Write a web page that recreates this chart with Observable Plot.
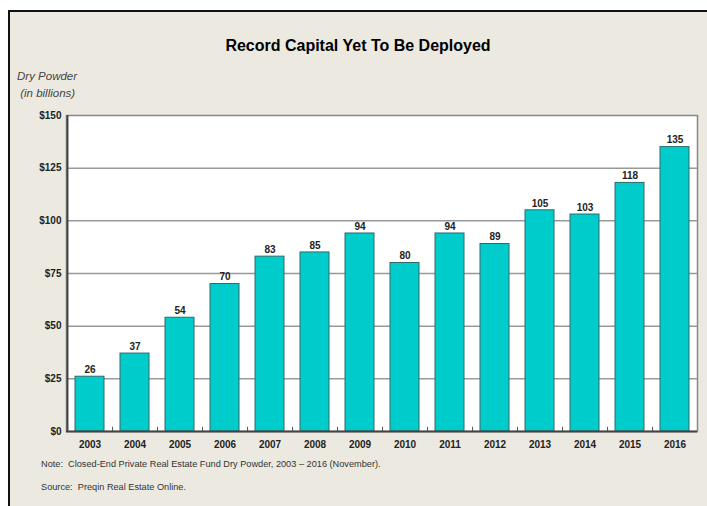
<!DOCTYPE html>
<html>
<head>
<meta charset="utf-8">
<script src="https://cdn.jsdelivr.net/npm/d3@7"></script>
<script src="https://cdn.jsdelivr.net/npm/@observablehq/plot@0.6"></script>
<style>
  html, body { margin: 0; padding: 0; background: #fff; overflow: hidden; }
  #wrap { position: relative; width: 707px; height: 506px; overflow: hidden; font-family: Arial, "Liberation Sans", sans-serif; }
  #frame { position: absolute; left: 8px; top: 10px; width: 720px; height: 520px; border: 2px solid #111; background: #ECEAE0; box-sizing: border-box; }
  #chart { position: absolute; left: 0; top: 0; width: 707px; height: 506px; }
  #chart svg { max-width: none; }
  .t { position: absolute; white-space: nowrap; }
  #title { left: 0; width: 716px; top: 37px; text-align: center; font-weight: bold; font-size: 16px; color: #000; }
  #ylab { left: 17px; top: 68px; font-style: italic; font-size: 11.5px; color: #444; line-height: 17px; }
  #note { left: 41px; top: 459px; font-size: 9.2px; color: #333; }
  #source { left: 41px; top: 482px; font-size: 9.2px; color: #333; }
</style>
</head>
<body>
<div id="wrap">
  <div id="frame"></div>
  <div id="chart"></div>
  <div class="t" id="title">Record Capital Yet To Be Deployed</div>
  <div class="t" id="ylab">Dry Powder<br>&nbsp;(in billions)</div>
  <div class="t" id="note">Note:&nbsp; Closed-End Private Real Estate Fund Dry Powder, 2003 – 2016 (November).</div>
  <div class="t" id="source">Source:&nbsp; Preqin Real Estate Online.</div>
</div>
<script>
const years = ["2003","2004","2005","2006","2007","2008","2009","2010","2011","2012","2013","2014","2015","2016"];
const values = [26, 37, 54, 70, 83, 85, 94, 80, 94, 89, 105, 103, 118, 135];
const yTicks = [0, 25, 50, 75, 100, 125, 150];
const gridLines = [25, 50, 75, 100, 125];

const data = years.map((y, i) => ({year: y, value: values[i]}));

const W = 707, H = 506, ML = 66, MR = 10, MT = 115, MB = 75;
const step = (W - ML - MR) / years.length;

const chart = Plot.plot({
  width: W,
  height: H,
  marginLeft: ML,
  marginRight: MR,
  marginTop: MT,
  marginBottom: MB,
  style: {background: "transparent", fontFamily: "Arial, 'Liberation Sans', sans-serif", fontSize: "10px", fontWeight: "bold", color: "#222"},
  x: {domain: years, paddingInner: 0.36, paddingOuter: 0.18, label: null, tickSize: 0, tickPadding: 9},
  y: {domain: [0, 150], ticks: yTicks, tickFormat: d => "$" + d, label: null, tickSize: 0, tickPadding: 5},
  marks: [
    Plot.frame({fill: "#fff", stroke: "#888", strokeWidth: 1.5}),
    Plot.ruleY(gridLines, {stroke: "#999", strokeWidth: 1.5}),
    Plot.ruleX(years.slice(0, -1), {x: d => d, dx: step / 2, y1: 0, y2: 2, stroke: "#555", strokeWidth: 1}),
    Plot.barY(data, {x: "year", y: "value", fill: "#00CCCC", stroke: "#2E6B6B", strokeWidth: 1}),
    Plot.text(data, {x: "year", y: "value", text: d => String(d.value), dy: -7, fontWeight: "bold", fontSize: 10, fill: "#222"}),
    Plot.ruleY([0], {stroke: "#444", strokeWidth: 2}),
    Plot.ruleX([years[0]], {dx: -step / 2, y1: 0, y2: 150, stroke: "#444", strokeWidth: 2})
  ]
});
document.getElementById("chart").appendChild(chart);
</script>
</body>
</html>
